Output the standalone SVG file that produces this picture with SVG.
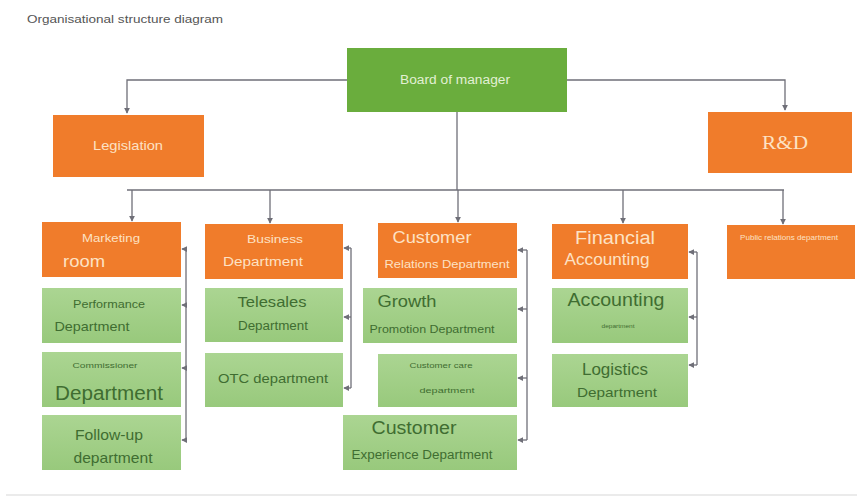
<svg xmlns="http://www.w3.org/2000/svg" width="857" height="497" viewBox="0 0 857 497">
  <defs>
    <marker id="arr" viewBox="0 0 8 8" refX="7" refY="4" markerWidth="6" markerHeight="6" orient="auto-start-reverse" markerUnits="userSpaceOnUse">
      <path d="M0,0 L8,4 L0,8 Z" fill="#6f6f78"/>
    </marker>
    <linearGradient id="gfill" x1="0" y1="0" x2="0" y2="1">
      <stop offset="0" stop-color="#abd592"/>
      <stop offset="1" stop-color="#98c97c"/>
    </linearGradient>
    <style>
      .t { font-family: "Liberation Sans", Arial, sans-serif; text-anchor: middle; }
      .orange { fill: #f07c2b; }
      .green { fill: url(#gfill); }
      .board { fill: #6aad3d; }
      .ot { fill: #fde2c4; }
      .gt { fill: #3f6d31; }
      .con { fill: none; stroke: #6f6f78; stroke-width: 1.3; }
    </style>
  </defs>
  <rect width="857" height="497" fill="#ffffff"/>

  <text x="27" y="23" font-family="Liberation Sans, Arial, sans-serif" font-size="11" fill="#555" textLength="196" lengthAdjust="spacingAndGlyphs">Organisational structure diagram</text>

  <!-- connectors -->
  <g id="connectors">
    <path class="con" d="M347,80 H127 V113" marker-end="url(#arr)"/>
    <path class="con" d="M567,80 H785 V110" marker-end="url(#arr)"/>
    <path class="con" d="M457,112 V190"/>
    <path class="con" d="M127,190 H784"/>
    <path class="con" d="M132,190 V221" marker-end="url(#arr)"/>
    <path class="con" d="M270,190 V223" marker-end="url(#arr)"/>
    <path class="con" d="M458,190 V222" marker-end="url(#arr)"/>
    <path class="con" d="M623,190 V223" marker-end="url(#arr)"/>
    <path class="con" d="M783,190 V224" marker-end="url(#arr)"/>

    <!-- brackets linking each head to its sub-departments -->
    <path class="con" d="M186,249 V440"/>
    <path class="con" d="M186,249 H182" marker-end="url(#arr)"/>
    <path class="con" d="M186,305 H182" marker-end="url(#arr)"/>
    <path class="con" d="M186,368 H182" marker-end="url(#arr)"/>
    <path class="con" d="M186,440 H182" marker-end="url(#arr)"/>

    <path class="con" d="M351,248 V388"/>
    <path class="con" d="M351,248 H344" marker-end="url(#arr)"/>
    <path class="con" d="M351,317 H344" marker-end="url(#arr)"/>
    <path class="con" d="M351,388 H344" marker-end="url(#arr)"/>

    <path class="con" d="M527,250 V440"/>
    <path class="con" d="M527,250 H518" marker-end="url(#arr)"/>
    <path class="con" d="M527,309 H518" marker-end="url(#arr)"/>
    <path class="con" d="M527,378 H518" marker-end="url(#arr)"/>
    <path class="con" d="M527,440 H518" marker-end="url(#arr)"/>

    <path class="con" d="M697,252 V365"/>
    <path class="con" d="M697,252 H689" marker-end="url(#arr)"/>
    <path class="con" d="M697,317 H689" marker-end="url(#arr)"/>
    <path class="con" d="M697,365 H689" marker-end="url(#arr)"/>
  </g>

  <g id="board">
    <rect class="board" x="347" y="48" width="220" height="64"/>
    <text class="t" x="455" y="84" font-size="12" fill="#e2f0d4" textLength="110" lengthAdjust="spacingAndGlyphs">Board of manager</text>
  </g>

  <g id="legislation">
    <rect class="orange" x="53" y="115" width="151" height="62"/>
    <text class="t ot" x="128" y="150" font-size="13" textLength="70" lengthAdjust="spacingAndGlyphs">Legislation</text>
  </g>

  <g id="rd">
    <rect class="orange" x="708" y="112" width="144" height="61"/>
    <text x="785" y="149" font-family="Liberation Serif, serif" font-size="19" text-anchor="middle" fill="#fde2c4" textLength="46" lengthAdjust="spacingAndGlyphs">R&amp;D</text>
  </g>

  <!-- column 1 -->
  <g id="marketing">
    <rect class="orange" x="42" y="222" width="139" height="55"/>
    <text class="t ot" x="111" y="242" font-size="10" textLength="58" lengthAdjust="spacingAndGlyphs">Marketing</text>
    <text class="t ot" x="84" y="267" font-size="17" textLength="42" lengthAdjust="spacingAndGlyphs">room</text>
  </g>
  <g id="performance">
    <rect class="green" x="42" y="288" width="139" height="55"/>
    <text class="t gt" x="109" y="308" font-size="10" textLength="72" lengthAdjust="spacingAndGlyphs">Performance</text>
    <text class="t gt" x="92" y="331" font-size="13" textLength="75" lengthAdjust="spacingAndGlyphs">Department</text>
  </g>
  <g id="commissioner">
    <rect class="green" x="42" y="352" width="139" height="55"/>
    <text class="t gt" x="105" y="368" font-size="8" textLength="65" lengthAdjust="spacingAndGlyphs">Commissioner</text>
    <text class="t gt" x="109" y="400" font-size="20" textLength="108" lengthAdjust="spacingAndGlyphs">Department</text>
  </g>
  <g id="followup">
    <rect class="green" x="42" y="415" width="139" height="55"/>
    <text class="t gt" x="109" y="440" font-size="15" textLength="68" lengthAdjust="spacingAndGlyphs">Follow-up</text>
    <text class="t gt" x="113" y="463" font-size="15" textLength="79" lengthAdjust="spacingAndGlyphs">department</text>
  </g>

  <!-- column 2 -->
  <g id="business">
    <rect class="orange" x="205" y="224" width="138" height="55"/>
    <text class="t ot" x="275" y="243" font-size="11" textLength="56" lengthAdjust="spacingAndGlyphs">Business</text>
    <text class="t ot" x="263" y="266" font-size="12" textLength="80" lengthAdjust="spacingAndGlyphs">Department</text>
  </g>
  <g id="telesales">
    <rect class="green" x="205" y="288" width="138" height="54"/>
    <text class="t gt" x="272" y="307" font-size="15" textLength="69" lengthAdjust="spacingAndGlyphs">Telesales</text>
    <text class="t gt" x="273" y="330" font-size="12" textLength="70" lengthAdjust="spacingAndGlyphs">Department</text>
  </g>
  <g id="otc">
    <rect class="green" x="205" y="353" width="138" height="54"/>
    <text class="t gt" x="273" y="383" font-size="13" textLength="110" lengthAdjust="spacingAndGlyphs">OTC department</text>
  </g>

  <!-- column 3 -->
  <g id="customer-relations">
    <rect class="orange" x="378" y="223" width="139" height="55"/>
    <text class="t ot" x="432" y="243" font-size="17" textLength="79" lengthAdjust="spacingAndGlyphs">Customer</text>
    <text class="t ot" x="447" y="268" font-size="11" textLength="125" lengthAdjust="spacingAndGlyphs">Relations Department</text>
  </g>
  <g id="growth">
    <rect class="green" x="363" y="288" width="154" height="55"/>
    <text class="t gt" x="407" y="307" font-size="17" textLength="59" lengthAdjust="spacingAndGlyphs">Growth</text>
    <text class="t gt" x="432" y="333" font-size="11" textLength="125" lengthAdjust="spacingAndGlyphs">Promotion Department</text>
  </g>
  <g id="customer-care">
    <rect class="green" x="378" y="354" width="139" height="53"/>
    <text class="t gt" x="441" y="368" font-size="8" textLength="63" lengthAdjust="spacingAndGlyphs">Customer care</text>
    <text class="t gt" x="447" y="393" font-size="8" textLength="55" lengthAdjust="spacingAndGlyphs">department</text>
  </g>
  <g id="customer-experience">
    <rect class="green" x="343" y="415" width="174" height="55"/>
    <text class="t gt" x="414" y="434" font-size="18" textLength="85" lengthAdjust="spacingAndGlyphs">Customer</text>
    <text class="t gt" x="422" y="459" font-size="12" textLength="141" lengthAdjust="spacingAndGlyphs">Experience Department</text>
  </g>

  <!-- column 4 -->
  <g id="financial">
    <rect class="orange" x="552" y="224" width="136" height="55"/>
    <text class="t ot" x="615" y="244" font-size="18" textLength="80" lengthAdjust="spacingAndGlyphs">Financial</text>
    <text class="t ot" x="607" y="265" font-size="16" textLength="85" lengthAdjust="spacingAndGlyphs">Accounting</text>
  </g>
  <g id="accounting">
    <rect class="green" x="552" y="288" width="136" height="55"/>
    <text class="t gt" x="616" y="306" font-size="18" textLength="97" lengthAdjust="spacingAndGlyphs">Accounting</text>
    <text class="t gt" x="618" y="328" font-size="6" textLength="33" lengthAdjust="spacingAndGlyphs">department</text>
  </g>
  <g id="logistics">
    <rect class="green" x="552" y="354" width="136" height="53"/>
    <text class="t gt" x="615" y="375" font-size="16" textLength="66" lengthAdjust="spacingAndGlyphs">Logistics</text>
    <text class="t gt" x="617" y="397" font-size="13" textLength="80" lengthAdjust="spacingAndGlyphs">Department</text>
  </g>

  <!-- column 5 -->
  <g id="fifth">
    <rect class="orange" x="727" y="225" width="128" height="54"/>
    <text class="t ot" x="789" y="240" font-size="7" textLength="98" lengthAdjust="spacingAndGlyphs">Public relations department</text>
  </g>

  <line x1="6" y1="495" x2="857" y2="495" stroke="#d8d8d8" stroke-width="1.2"/>
</svg>
